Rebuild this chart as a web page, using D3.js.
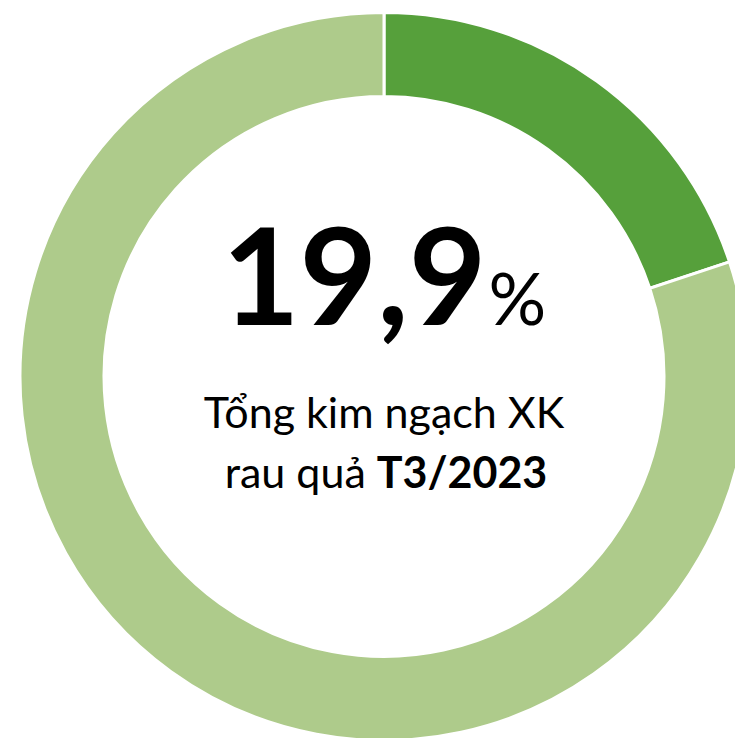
<!DOCTYPE html>
<html>
<head>
<meta charset="utf-8">
<script src="https://cdn.jsdelivr.net/npm/d3@7"></script>
<style>
  html, body { margin: 0; padding: 0; background: #fff; overflow: hidden; }
</style>
</head>
<body>
<script>
// data
var categories = ["Rau quả T3/2023", "Khác"];
var values = [19.9, 80.1];
var colors = ["#56a03b", "#aecb8b"];
var bigLabel = "19,9";
var lines = ["Tổng kim ngạch XK", "rau quả "];
var boldPart = "T3/2023";

function init () {
  'use strict';
  var w = 735;
  var h = 738;
  var cx = 384, cy = 376.5;
  var outerR = 364, innerR = 280;

  var svg = d3.select("body")
    .append("svg")
    .attr("width", w)
    .attr("height", h);

  var g = svg.append("g")
    .attr("transform", "translate(" + cx + "," + cy + ")");

  var pie = d3.pie().sort(null).value(function(d) { return d; });
  var arc = d3.arc().innerRadius(innerR).outerRadius(outerR);

  g.selectAll("path")
    .data(pie(values))
    .enter()
    .append("path")
    .attr("d", arc)
    .attr("fill", function(d, i) { return colors[i]; })
    .attr("stroke", "#fff")
    .attr("stroke-width", 3);

  var font = "Lato, 'Open Sans', sans-serif";

  // big number
  var big = svg.append("text")
    .attr("x", cx)
    .attr("y", 325)
    .attr("text-anchor", "middle")
    .attr("font-family", font)
    .attr("fill", "#000");
  big.append("tspan")
    .attr("font-weight", "bold")
    .attr("font-size", 134)
    .text(bigLabel);
  big.append("tspan")
    .attr("font-size", 72)
    .attr("dx", 2)
    .text("%");

  svg.append("text")
    .attr("x", cx)
    .attr("y", 428)
    .attr("text-anchor", "middle")
    .attr("font-family", font)
    .attr("font-size", 43)
    .attr("fill", "#000")
    .text(lines[0]);

  var t2 = svg.append("text")
    .attr("x", cx + 2)
    .attr("y", 488)
    .attr("text-anchor", "middle")
    .attr("font-family", font)
    .attr("font-size", 43)
    .attr("fill", "#000");
  t2.append("tspan").text(lines[1]);
  t2.append("tspan").attr("font-weight", "bold").text(boldPart);
}

window.onload = init;
</script>
</body>
</html>
